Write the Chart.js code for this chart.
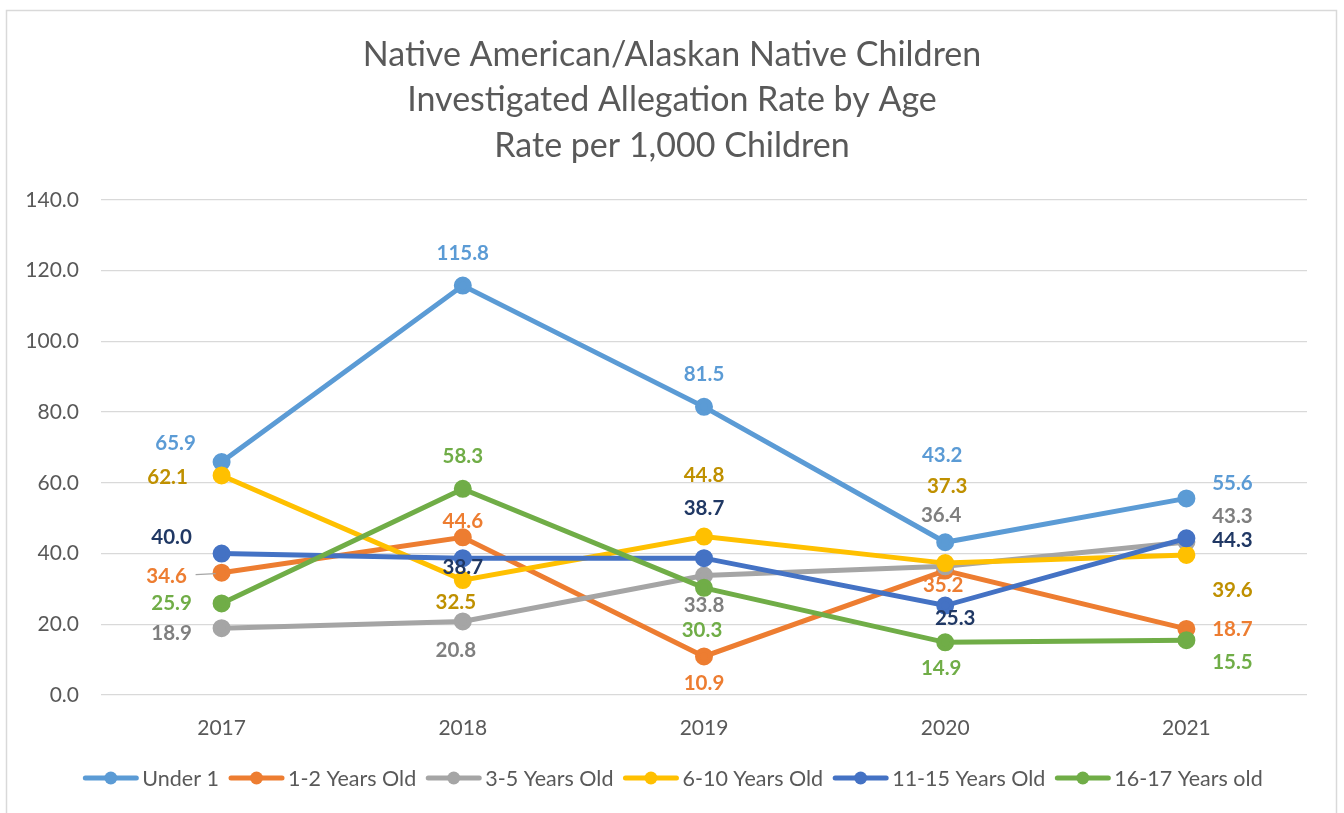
<!DOCTYPE html>
<html>
<head>
<meta charset="utf-8">
<script src="https://cdn.jsdelivr.net/npm/chart.js@4"></script>
<style>
html,body{margin:0;padding:0;background:#fff;}
#wrap{position:absolute;left:0;top:0;width:1344px;height:813px;}
</style>
</head>
<body>
<div id="wrap"><canvas id="c" width="1344" height="813"></canvas></div>
<script>
const years = ['2017','2018','2019','2020','2021'];
const seriesNames = ['Under 1','1-2 Years Old','3-5 Years Old','6-10 Years Old','11-15 Years Old','16-17 Years old'];
const under1 = [65.9, 115.8, 81.5, 43.2, 55.6];
const age1to2 = [34.6, 44.6, 10.9, 35.2, 18.7];
const age3to5 = [18.9, 20.8, 33.8, 36.4, 43.3];
const age6to10 = [62.1, 32.5, 44.8, 37.3, 39.6];
const age11to15 = [40.0, 38.7, 38.7, 25.3, 44.3];
const age16to17 = [25.9, 58.3, 30.3, 14.9, 15.5];
const yTicks = [0, 20, 40, 60, 80, 100, 120, 140];
const titleLines = ['Native American/Alaskan Native Children','Investigated Allegation Rate by Age','Rate per 1,000 Children'];

const lineColors = ['#5B9BD5','#ED7D31','#A5A5A5','#FFC000','#4472C4','#70AD47'];
const labelColors = ['#5B9BD5','#ED7D31','#7F7F7F','#BF9000','#203864','#70AD47'];
// label placement offsets (dx, dy) from each point
const labelPlacement = [
  [[-46,-19],[0,-32],[0,-32],[-3,-87],[46,-15]],
  [[-55,4],[0,-16],[0,27],[-2,15],[46,1]],
  [[-50,5],[-7,29],[0,30],[-4,-51],[46,-26]],
  [[-54,2],[-7,22],[0,-61],[2,-77],[46,35]],
  [[-50,-16],[0,9],[0,-50],[10,13],[46,2]],
  [[-50,0],[0,-32],[-2,43],[-4,26],[46,22]]
];

const FONT = 'Lato, "Open Sans", sans-serif';
const allData = [under1, age1to2, age3to5, age6to10, age11to15, age16to17];

const datasets = allData.map((d, i) => ({
  label: seriesNames[i],
  data: d,
  borderColor: lineColors[i],
  backgroundColor: lineColors[i],
  pointBackgroundColor: lineColors[i],
  pointBorderColor: lineColors[i],
  borderWidth: 5,
  pointRadius: 6.5,
  pointHoverRadius: 6.5,
  tension: 0,
  order: 5 - i
}));

const deco = {
  id: 'deco',
  beforeDraw(chart) {
    const ctx = chart.ctx;
    ctx.save();
    ctx.fillStyle = '#fff';
    ctx.fillRect(0, 0, chart.width, chart.height);
    ctx.strokeStyle = '#D9D9D9';
    ctx.lineWidth = 1.5;
    ctx.strokeRect(6.5, 10.5, 1330, 830);
    // title
    ctx.fillStyle = '#595959';
    ctx.font = '34px ' + FONT;
    ctx.textAlign = 'center';
    ctx.textBaseline = 'middle';
    const ys = [55, 100, 146];
    titleLines.forEach((t, i) => ctx.fillText(t, 672, ys[i]));
    ctx.restore();
  },
  afterDatasetsDraw(chart) {
    const ctx = chart.ctx;
    ctx.save();
    ctx.font = 'bold 20.5px ' + FONT;
    ctx.textAlign = 'center';
    ctx.textBaseline = 'middle';
    chart.data.datasets.forEach((ds, i) => {
      const meta = chart.getDatasetMeta(i);
      meta.data.forEach((pt, j) => {
        const off = labelPlacement[i][j];
        ctx.fillStyle = labelColors[i];
        ctx.fillText(ds.data[j].toFixed(1), pt.x + off[0], pt.y + off[1]);
      });
    });
    // leader line for 1-2 Years Old 2017 label
    const p = chart.getDatasetMeta(1).data[0];
    ctx.strokeStyle = '#A6A6A6';
    ctx.lineWidth = 1.2;
    ctx.beginPath();
    ctx.moveTo(p.x - 26, p.y + 2);
    ctx.lineTo(p.x - 6, p.y + 1);
    ctx.stroke();
    // legend
    ctx.font = '21.5px ' + FONT;
    ctx.textAlign = 'left';
    const lineLen = 55, gapText = 4, gapItem = 10;
    const widths = seriesNames.map(n => lineLen + gapText + ctx.measureText(n).width);
    const total = widths.reduce((a, b) => a + b, 0) + gapItem * (seriesNames.length - 1);
    let x = 673 - total / 2;
    const y = 778;
    seriesNames.forEach((n, i) => {
      ctx.strokeStyle = lineColors[i];
      ctx.lineWidth = 5;
      ctx.lineCap = 'round';
      ctx.beginPath();
      ctx.moveTo(x + 2, y);
      ctx.lineTo(x + lineLen - 2, y);
      ctx.stroke();
      ctx.fillStyle = lineColors[i];
      ctx.beginPath();
      ctx.arc(x + lineLen / 2, y, 6.5, 0, Math.PI * 2);
      ctx.fill();
      ctx.fillStyle = '#595959';
      ctx.fillText(n, x + lineLen + gapText, y + 1);
      x += widths[i] + gapItem;
    });
    ctx.restore();
  }
};

new Chart(document.getElementById('c'), {
  type: 'line',
  data: { labels: years, datasets },
  options: {
    responsive: false,
    animation: false,
    layout: { padding: { left: 21, right: 37, top: 200, bottom: 73 } },
    plugins: { legend: { display: false }, title: { display: false }, tooltip: { enabled: false } },
    scales: {
      x: {
        offset: true,
        grid: { display: false },
        border: { display: false },
        ticks: { color: '#595959', font: { family: FONT, size: 21 }, padding: 13 },
        afterFit(s) { s.height = 45; }
      },
      y: {
        min: 0, max: 140,
        afterBuildTicks(s) { s.ticks = yTicks.map(v => ({ value: v })); },
        grid: { color: '#D9D9D9', lineWidth: 1.3, drawTicks: false },
        border: { display: false },
        ticks: { color: '#595959', font: { family: FONT, size: 21 }, padding: 22,
          callback: v => Number(v).toFixed(1) },
        afterFit(s) { s.width = 80; }
      }
    }
  },
  plugins: [deco]
});
</script>
</body>
</html>
